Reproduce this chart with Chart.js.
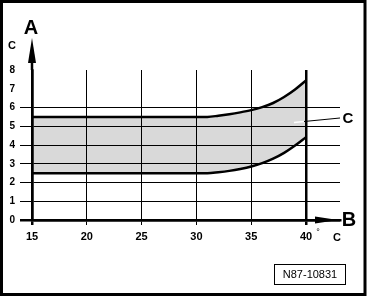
<!DOCTYPE html>
<html lang="en">
<head>
<meta charset="UTF-8">
<title>N87-10831</title>
<style>
body { margin: 0; background: #fff; }
#chartStyle { width: 369px; height: 298px; }
</style>
<script src="https://cdn.jsdelivr.net/npm/chart.js@4/dist/chart.umd.min.js"></script>
</head>
<body>
<div id="chartStyle"><canvas id="chart" width="369" height="298"></canvas></div>
<script type="text/javascript">

// values
const temps = [15, 31, 32, 33, 34, 35, 36, 37, 38, 39, 40];
const upper = [5.5, 5.5, 5.56, 5.64, 5.74, 5.86, 6.02, 6.24, 6.56, 6.96, 7.44];
const lower = [2.5, 2.5, 2.55, 2.62, 2.72, 2.85, 3.03, 3.27, 3.58, 3.97, 4.42];
const xTicks = [15, 20, 25, 30, 35, 40];
const yTicks = [0, 1, 2, 3, 4, 5, 6, 7, 8];
const yGridTop = 6;
const refText = 'N87-10831';

const FONT = '"Liberation Sans", Arial, sans-serif';

const extras = {
	id: 'extras',
	afterDraw(chart) {
		const ctx = chart.ctx;
		const xs = chart.scales.x, ys = chart.scales.y;
		const ax = xs.getPixelForValue(15);
		const ay = ys.getPixelForValue(0);
		ctx.save();
		ctx.fillStyle = '#000';
		ctx.strokeStyle = '#000';

		// y axis arrow
		ctx.lineWidth = 2.5;
		ctx.beginPath();
		ctx.moveTo(ax, chart.chartArea.top);
		ctx.lineTo(ax, 56);
		ctx.stroke();
		ctx.beginPath();
		ctx.moveTo(ax, 38);
		ctx.lineTo(ax - 4, 63);
		ctx.lineTo(ax + 4, 63);
		ctx.closePath();
		ctx.fill();

		// x axis arrow
		ctx.beginPath();
		ctx.moveTo(338, ay);
		ctx.lineTo(315, ay - 3.5);
		ctx.lineTo(315, ay + 3.5);
		ctx.closePath();
		ctx.fill();

		ctx.textAlign = 'center';
		ctx.textBaseline = 'middle';
		ctx.font = 'bold 20px ' + FONT;
		ctx.fillText('A', 31, 28);
		ctx.fillText('B', 349, 220);

		ctx.font = 'bold 11px ' + FONT;
		ctx.fillText('C', 12, 46);
		ctx.fillText('C', 337, 238);
		ctx.font = '9px ' + FONT;
		ctx.fillText('°', 318, 233);

		// label C with leader
		ctx.font = 'bold 15px ' + FONT;
		ctx.fillText('C', 348, 119);
		ctx.lineWidth = 1.5;
		ctx.strokeStyle = '#fff';
		ctx.beginPath();
		ctx.moveTo(294, 122.5);
		ctx.lineTo(304, 121.5);
		ctx.stroke();
		ctx.strokeStyle = '#000';
		ctx.lineWidth = 1;
		ctx.beginPath();
		ctx.moveTo(304, 121.5);
		ctx.lineTo(340, 118);
		ctx.stroke();

		// reference box
		ctx.lineWidth = 1;
		ctx.strokeRect(274.5, 264.5, 71, 20);
		ctx.font = '11px ' + FONT;
		ctx.fillText(refText, 310, 275);

		// frame
		ctx.lineWidth = 3;
		ctx.strokeRect(1.5, 1.5, 363.5, 293);
		ctx.restore();
	}
};

const data = {
	datasets: [{
		label: 'lower',
		data: temps.map((t, i) => ({x: t, y: lower[i]})),
		borderColor: '#000',
		borderWidth: 2.5,
		pointRadius: 0,
		cubicInterpolationMode: 'monotone',
		fill: false
	}, {
		label: 'upper',
		data: temps.map((t, i) => ({x: t, y: upper[i]})),
		borderColor: '#000',
		borderWidth: 2.5,
		pointRadius: 0,
		cubicInterpolationMode: 'monotone',
		backgroundColor: 'rgba(0,0,0,0.15)',
		fill: '-1'
	}]
};

const config = {
	type: 'line',
	data,
	options: {
		responsive: false,
		animation: false,
		layout: {padding: {left: 0, top: 70, right: 29, bottom: 0}},
		plugins: {legend: {display: false}, tooltip: {enabled: false}},
		scales: {
			x: {
				type: 'linear',
				min: 15,
				max: 43.1,
				afterBuildTicks: s => { s.ticks = xTicks.map(v => ({value: v})); },
				afterFit: s => { s.height = 78; },
				grid: {
					color: '#000',
					lineWidth: c => (c.tick && (c.tick.value === 40 || c.tick.value === 15)) ? 2.5 : 1,
					tickLength: 5
				},
				border: {display: true, color: '#000', width: 2.5},
				ticks: {
					color: '#000',
					font: {family: FONT, size: 11, weight: 'bold'},
					padding: 5,
					maxRotation: 0,
					autoSkip: false
				}
			},
			y: {
				min: 0,
				max: 8,
				afterBuildTicks: s => { s.ticks = yTicks.map(v => ({value: v})); },
				afterFit: s => { s.width = 32; },
				grid: {
					color: c => (c.tick && c.tick.value > yGridTop) ? 'rgba(0,0,0,0)' : '#000',
					lineWidth: c => (c.tick && c.tick.value === 0) ? 2.5 : 1,
					tickLength: 12
				},
				border: {display: true, color: '#000', width: 2.5},
				ticks: {
					color: '#000',
					font: {family: FONT, size: 10, weight: 'bold'},
					padding: 5,
					autoSkip: false
				}
			}
		}
	},
	plugins: [extras]
};

var myChart = new Chart(document.getElementById('chart'), config);

</script>
</body>
</html>
